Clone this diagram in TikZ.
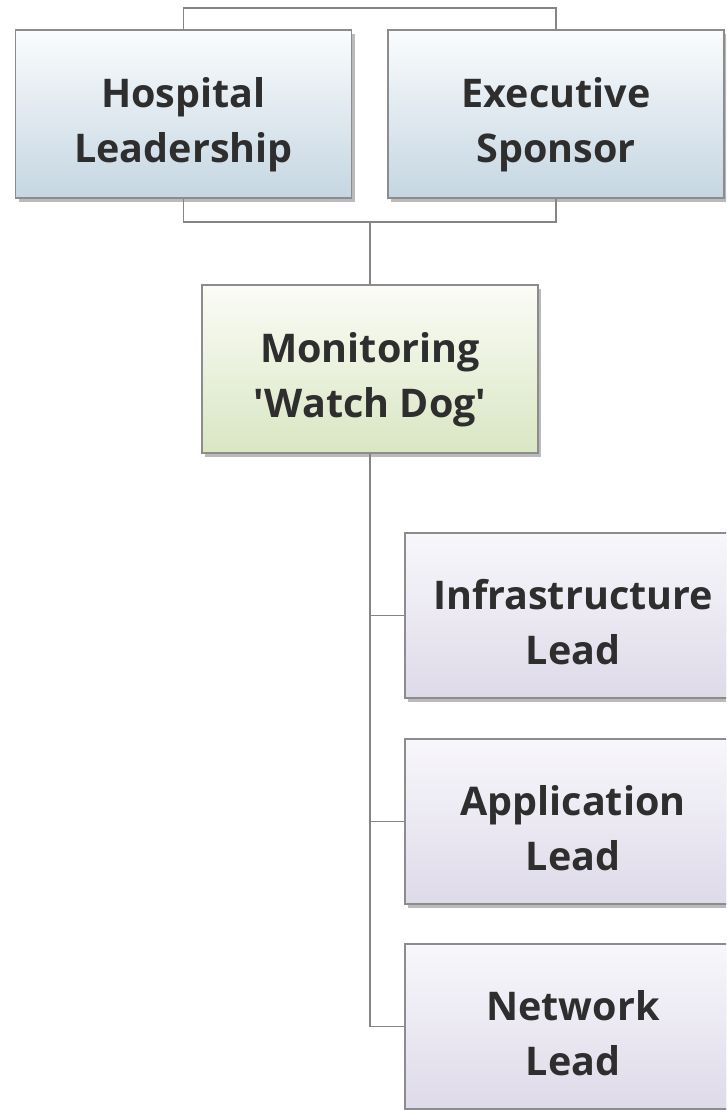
\documentclass[tikz,border=0pt]{standalone}
\usepackage{fontspec}
\setmainfont{Open Sans}[Ligatures=TeXOff]
\usetikzlibrary{shadows}
\definecolor{linegray}{HTML}{858585}
\definecolor{boxborder}{HTML}{8C8C8C}
\definecolor{txt}{HTML}{2E2E2E}
\definecolor{bluebot}{HTML}{C5D6E2}
\definecolor{bluetop}{HTML}{FAFCFD}
\definecolor{greenbot}{HTML}{D9E6C3}
\definecolor{greentop}{HTML}{FBFCF6}
\definecolor{lavbot}{HTML}{DEDAE9}
\definecolor{lavtop}{HTML}{F8F7FB}
\tikzset{
  orgbox/.style={draw=boxborder, line width=1.5pt, rectangle, align=center,
    minimum width=336pt, minimum height=168pt, inner sep=0pt,
    font=\fontsize{39.5}{55}\selectfont\bfseries, text=txt,
    text height=97pt, text depth=0pt,
    drop shadow={shadow xshift=3pt, shadow yshift=-4pt, opacity=0.45, fill=black!60}},
  bluebox/.style={orgbox, top color=bluetop, bottom color=bluebot},
  greenbox/.style={orgbox, top color=greentop, bottom color=greenbot},
  lavbox/.style={orgbox, top color=lavtop, bottom color=lavbot, minimum height=165pt},
  conn/.style={draw=linegray, line width=1.6pt}
}
\begin{document}
\begin{tikzpicture}[x=1pt, y=-1pt]
\useasboundingbox (0,0) rectangle (726,1110);
\clip (0,0) rectangle (726,1110);
\fill[white] (0,0) rectangle (726,1110);
\node[bluebox] (H) at (183.5,114) {Hospital\\Leadership};
\node[bluebox] (E) at (556,114) {Executive\\Sponsor};
\node[greenbox] (M) at (370,369) {Monitoring\\'Watch Dog'};
\node[lavbox] (I) at (573,615.5) {Infrastructure\\Lead};
\node[lavbox] (A) at (573,821.5) {Application\\Lead};
\node[lavbox] (N) at (573,1026.5) {Network\\Lead};
\coordinate (j) at (370,221);
\draw[conn] (H.north) -- ++(0,-21) -| (E.north);
\draw[conn] (H.south) -- ++(0,23) -| (E.south);
\draw[conn] (j) -- (M.north);
\draw[conn] (M.south) |- (N.west);
\draw[conn] (M.south |- I.west) -- (I.west);
\draw[conn] (M.south |- A.west) -- (A.west);
\end{tikzpicture}
\end{document}
